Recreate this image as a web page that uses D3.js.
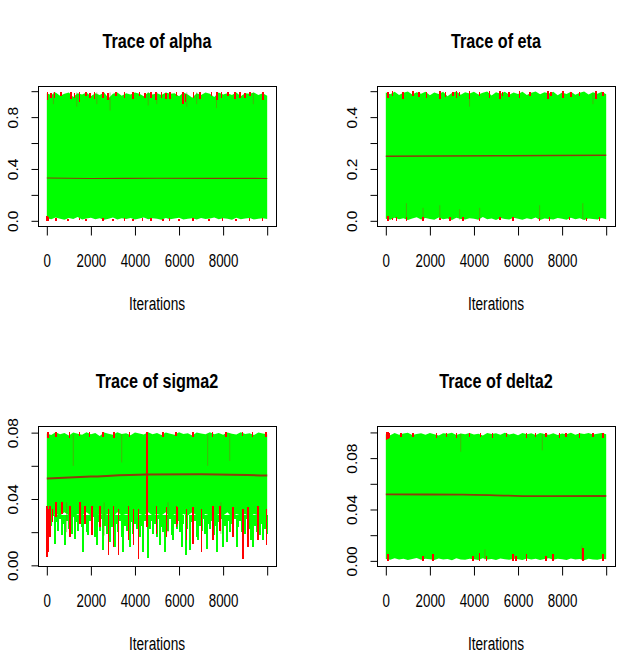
<!DOCTYPE html>
<html>
<head>
<meta charset="utf-8">
<script src="https://cdn.jsdelivr.net/npm/d3@7"></script>
<style>
  body { margin: 0; background: #fff; }
  text { font-family: "Liberation Sans", Arial, sans-serif; fill: #000; }
</style>
</head>
<body>
<div class="viz"></div>
<script>
var width = 628, height = 656;

// iteration bins for the chain envelopes
var iterBins = [0,200,400,600,800,1000,1200,1400,1600,1800,2000,2200,2400,2600,2800,3000,3200,3400,3600,3800,
  4000,4200,4400,4600,4800,5000,5200,5400,5600,5800,6000,6200,6400,6600,6800,7000,7200,7400,7600,7800,
  8000,8200,8400,8600,8800,9000,9200,9400,9600,9800,10000];
var xTicks = [0,2000,4000,6000,8000,10000];
var xLabels = ['0','2000','4000','6000','8000',''];

/* alpha */
var alphaTop = [0.985,0.97,0.99,0.965,0.98,0.99,0.955,0.985,0.975,0.99,
  0.96,0.985,0.97,0.99,0.945,0.98,0.99,0.965,0.985,0.975,
  0.99,0.98,0.96,0.99,0.975,0.985,0.97,0.99,0.98,0.985,
  0.96,0.99,0.975,0.95,0.985,0.97,0.99,0.98,0.955,0.99,
  0.975,0.985,0.97,0.99,0.96,0.985,0.98,0.99,0.97,0.985,0.965];
var alphaBot = [0.02,0.012,0.025,0.015,0.008,0.022,0.014,0.03,0.01,0.018,
  0.024,0.012,0.02,0.009,0.016,0.026,0.011,0.019,0.014,0.022,
  0.01,0.017,0.025,0.012,0.02,0.015,0.008,0.021,0.013,0.018,
  0.024,0.011,0.016,0.02,0.01,0.022,0.014,0.018,0.026,0.012,
  0.019,0.015,0.009,0.023,0.013,0.017,0.021,0.011,0.016,0.02,0.014];
var alphaRed = [[30,0.93,0.99],[200,0.95,0.985],[345,0.95,0.995],[650,0.96,0.99],[1100,0.94,0.995],[1250,0.95,0.985],
  [1480,0.92,0.99],[1780,0.96,0.995],[1950,0.95,0.985],[2160,0.94,0.99],[2540,0.95,0.995],[2765,0.93,0.985],
  [3140,0.96,0.99],[3520,0.95,0.995],[3900,0.94,0.99],[4200,0.96,0.995],[4450,0.95,0.985],[4730,0.95,0.99],
  [4960,0.93,0.995],[5210,0.95,0.99],[5400,0.94,0.985],[5590,0.94,0.995],[5890,0.96,0.99],[6190,0.9,0.995],
  [6300,0.92,0.98],[6650,0.95,0.99],[6950,0.94,0.995],[7480,0.96,0.99],[7710,0.93,0.995],[7930,0.95,0.99],
  [8230,0.96,0.995],[8540,0.94,0.99],[8760,0.95,0.995],[9000,0.95,0.985],[9220,0.96,0.99],[9820,0.93,0.995],
  [0,0.0,0.04],[60,0.0,0.03],[420,0.002,0.02],[950,0.0,0.015],[1480,0.003,0.02],[1780,0.0,0.012],
  [2540,0.002,0.018],[2990,0.0,0.015],[3520,0.001,0.02],[3900,0.0,0.012],[4350,0.002,0.018],
  [4730,0.0,0.02],[5260,0.001,0.014],[5560,0.0,0.02],[6010,0.002,0.016],[6620,0.0,0.018],
  [7370,0.001,0.014],[7980,0.0,0.02],[8580,0.002,0.015],[9190,0.0,0.018],[9790,0.001,0.02]];
var alphaDark = [[300,0.9,0.99],[1360,0.88,0.99],[2270,0.9,0.99],[2870,0.85,0.99],[4600,0.89,0.99],
  [4990,0.9,0.99],[6350,0.88,0.99],[6800,0.9,0.99],[7700,0.87,0.99],[9370,0.9,0.99]];
var alphaGreenSpikes = [];
var alphaMean = [[1,0.33],[2000,0.327],[5000,0.328],[10000,0.327]];

/* eta */
var etaTop = [0.495,0.488,0.498,0.485,0.494,0.499,0.487,0.496,0.49,0.498,
  0.484,0.495,0.489,0.498,0.48,0.493,0.499,0.486,0.496,0.491,
  0.498,0.487,0.494,0.499,0.483,0.496,0.49,0.498,0.486,0.495,
  0.489,0.498,0.485,0.494,0.499,0.488,0.496,0.491,0.498,0.484,
  0.495,0.489,0.498,0.486,0.494,0.499,0.487,0.496,0.49,0.498,0.488];
var etaBot = [0.008,0.004,0.012,0.006,0.01,0.003,0.009,0.014,0.005,0.011,
  0.007,0.004,0.013,0.006,0.009,0.003,0.012,0.007,0.005,0.01,
  0.008,0.004,0.015,0.006,0.009,0.003,0.011,0.007,0.005,0.012,
  0.008,0.004,0.01,0.006,0.013,0.003,0.009,0.007,0.005,0.011,
  0.008,0.004,0.012,0.006,0.01,0.003,0.009,0.007,0.005,0.011,0.006];
var etaRed = [[105,0.475,0.498],[300,0.48,0.499],[785,0.47,0.498],[1240,0.48,0.499],[1500,0.478,0.497],[1840,0.475,0.497],
  [2450,0.47,0.499],[2700,0.478,0.497],[3050,0.48,0.498],[3200,0.475,0.499],[3350,0.48,0.498],[3800,0.47,0.499],
  [4260,0.48,0.498],[4710,0.475,0.499],[5170,0.47,0.499],[5300,0.48,0.498],[5600,0.478,0.497],[6070,0.475,0.499],
  [6530,0.48,0.498],[7350,0.47,0.499],[7500,0.48,0.498],[8040,0.475,0.499],[8400,0.478,0.497],[8790,0.48,0.498],
  [9550,0.47,0.499],[9850,0.48,0.498],
  [105,0.0,0.018],[300,0.002,0.012],[480,0.0,0.015],[935,0.001,0.014],[1690,0.0,0.016],
  [2450,0.002,0.012],[2900,0.0,0.015],[3500,0.001,0.013],[4260,0.0,0.012],[5170,0.002,0.014],
  [5770,0.0,0.016],[6980,0.001,0.012],[7430,0.0,0.014],[8340,0.002,0.015],[9100,0.0,0.012],
  [9700,0.001,0.016]];
var etaDark = [[935,0.005,0.068],[1690,0.005,0.05],[2450,0.005,0.06],[3350,0.005,0.045],[4260,0.005,0.05],
  [6980,0.005,0.06],[8940,0.005,0.068],[3800,0.44,0.49],[9400,0.45,0.49]];
var etaGreenSpikes = [];
var etaMean = [[1,0.249],[5000,0.251],[10000,0.253]];

/* sigma2 */
var sigmaTop = [0.0795,0.0785,0.0802,0.079,0.0798,0.0782,0.0801,0.0793,0.0787,0.0803,
  0.0791,0.0798,0.078,0.0801,0.0794,0.0788,0.0802,0.0792,0.0797,0.0784,
  0.0801,0.0795,0.0789,0.0803,0.0791,0.0798,0.0786,0.0801,0.0793,0.0788,
  0.0802,0.0792,0.0797,0.0783,0.0801,0.0795,0.079,0.0803,0.0791,0.0798,
  0.0787,0.0801,0.0794,0.0789,0.0802,0.0792,0.0797,0.0785,0.0801,0.0795,0.079];
var sigmaBot = [0.03,0.029,0.031,0.03,0.032,0.03,0.029,0.031,0.03,0.032,
  0.03,0.029,0.031,0.03,0.031,0.029,0.032,0.03,0.031,0.03,
  0.029,0.031,0.03,0.032,0.03,0.031,0.03,0.032,0.029,0.031,
  0.029,0.031,0.03,0.032,0.03,0.029,0.031,0.03,0.029,0.031,
  0.03,0.032,0.029,0.031,0.03,0.031,0.029,0.031,0.03,0.029,0.03];
var sigmaRed = [[20,0.005,0.036],[80,0.008,0.034],[150,0.017,0.036],[260,0.026,0.034],[406,0.029,0.038],[678,0.031,0.038],
  [1056,0.017,0.036],[1509,0.025,0.038],[1530,0.026,0.036],[1736,0.025,0.036],[2038,0.018,0.036],[2416,0.023,0.036],
  [2794,0.006,0.034],[3020,0.011,0.036],[3247,0.006,0.034],[3700,0.015,0.036],[3927,0.012,0.034],
  [4154,0.004,0.034],[4530,0.023,0.0805],[4570,0.023,0.0805],[4985,0.019,0.036],[5438,0.017,0.035],
  [5891,0.023,0.036],[5920,0.025,0.035],[6345,0.015,0.034],[6647,0.013,0.035],[7025,0.008,0.034],
  [7553,0.015,0.036],[7856,0.021,0.036],[8460,0.017,0.035],[8913,0.004,0.034],[9140,0.011,0.035],
  [9593,0.015,0.036],[9971,0.012,0.034],
  [45,0.077,0.0805],[420,0.0775,0.0805],[1025,0.077,0.0803],[1480,0.0778,0.0805],[1930,0.0772,0.0804],
  [2540,0.0776,0.0805],[3060,0.077,0.0803],[3750,0.0775,0.0805],[5260,0.0772,0.0804],[5860,0.0777,0.0805],
  [6620,0.0771,0.0803],[7520,0.0776,0.0805],[8130,0.0773,0.0804],[8880,0.0777,0.0805],[9340,0.0772,0.0803],
  [9940,0.0775,0.0805]];
var sigmaDark = [[1200,0.06,0.079],[3400,0.062,0.079],[7300,0.06,0.079],[8300,0.063,0.079],
  [900,0.02,0.038],[2600,0.018,0.038],[5500,0.02,0.038],[7900,0.019,0.038]];
var sigmaGreenSpikes = [[30,0.02],[120,0.027],[210,0.024],[300,0.03],[376,0.013],[450,0.026],[530,0.021],[600,0.028],
  [680,0.018],[760,0.025],[830,0.012],[910,0.027],[1000,0.022],[1080,0.029],[1160,0.019],[1283,0.016],[1350,0.026],
  [1430,0.021],[1510,0.028],[1580,0.023],[1661,0.008],[1740,0.025],[1810,0.02],[1887,0.018],[1960,0.027],[2040,0.022],
  [2120,0.029],[2190,0.017],[2265,0.012],[2340,0.026],[2420,0.021],[2490,0.028],[2567,0.009],[2640,0.024],[2720,0.019],
  [2790,0.027],[2869,0.014],[2950,0.023],[3020,0.028],[3096,0.011],[3170,0.025],[3250,0.02],[3320,0.027],[3400,0.017],
  [3474,0.008],[3550,0.024],[3630,0.021],[3700,0.028],[3776,0.011],[3850,0.026],[3930,0.019],[4010,0.025],[4090,0.022],
  [4170,0.028],[4250,0.017],[4320,0.024],[4380,0.008],[4460,0.027],[4607,0.0047],[4680,0.022],[4760,0.027],[4840,0.019],
  [4920,0.025],[5000,0.017],[5080,0.028],[5136,0.012],[5210,0.023],[5290,0.02],[5362,0.008],[5440,0.026],[5520,0.021],
  [5600,0.028],[5670,0.018],[5740,0.015],[5820,0.025],[5900,0.022],[5970,0.027],[6050,0.02],[6118,0.011],[6200,0.025],
  [6300,0.006],[6380,0.022],[6496,0.009],[6570,0.026],[6650,0.02],[6730,0.027],[6800,0.017],[6873,0.015],[6950,0.024],
  [7030,0.021],[7110,0.028],[7180,0.019],[7251,0.01],[7330,0.025],[7410,0.022],[7490,0.027],[7570,0.018],[7640,0.024],
  [7704,0.008],[7780,0.026],[7850,0.021],[7920,0.028],[7990,0.011],[8070,0.024],[8158,0.014],[8230,0.027],[8310,0.02],
  [8390,0.025],[8470,0.018],[8540,0.028],[8611,0.011],[8690,0.023],[8770,0.027],[8840,0.02],[8920,0.025],[9000,0.019],
  [9080,0.028],[9160,0.022],[9250,0.015],[9310,0.026],[9367,0.011],[9440,0.024],[9520,0.02],[9600,0.027],[9680,0.018],
  [9750,0.025],[9820,0.015],[9900,0.022],[9970,0.019]];
var sigmaMean = [[1,0.0524],[2000,0.0535],[4500,0.0547],[7000,0.0549],[10000,0.0541]];

/* delta2 */
var deltaTop = [0.0985,0.0978,0.0995,0.0982,0.0991,0.0997,0.0979,0.0988,0.0994,0.0981,
  0.0996,0.0986,0.0977,0.0993,0.0989,0.0998,0.098,0.0992,0.0985,0.0996,
  0.0983,0.099,0.0976,0.0995,0.0987,0.0993,0.0981,0.0997,0.0984,0.0991,
  0.0978,0.0995,0.0986,0.0993,0.098,0.0996,0.0988,0.0982,0.0994,0.0979,
  0.0992,0.0986,0.0997,0.0981,0.0993,0.0988,0.0995,0.0983,0.099,0.0996,0.0986];
var deltaBot = [0.0015,0.0008,0.002,0.001,0.0017,0.0006,0.0014,0.0022,0.0009,0.0016,
  0.0012,0.0007,0.0019,0.001,0.0015,0.0005,0.0021,0.0011,0.0008,0.0017,
  0.0013,0.0007,0.002,0.001,0.0015,0.0006,0.0018,0.0012,0.0008,0.0016,
  0.0013,0.0007,0.0019,0.001,0.0016,0.0006,0.0014,0.0021,0.0009,0.0016,
  0.0012,0.0007,0.0018,0.001,0.0015,0.0005,0.0017,0.0011,0.0008,0.0016,0.0012];
var deltaRed = [[30,0.094,0.1],[90,0.095,0.1],[150,0.096,0.0995],[700,0.0965,0.0995],[1240,0.0965,0.0995],[2300,0.096,0.0998],
  [2760,0.0965,0.0995],[3200,0.096,0.0998],[3800,0.0965,0.0995],[4300,0.0965,0.0995],[4850,0.096,0.0998],[5470,0.0965,0.0995],
  [6380,0.096,0.0998],[6800,0.0965,0.0995],[7280,0.0965,0.0995],[7890,0.096,0.0998],[8190,0.0965,0.0995],[8790,0.096,0.0998],
  [9400,0.0965,0.0995],[9850,0.096,0.0998],
  [105,0.0,0.005],[1690,0.0002,0.004],[2140,0.0,0.005],[3950,0.0002,0.004],[4260,0.0,0.006],
  [4560,0.0002,0.004],[5770,0.0,0.005],[5920,0.0002,0.004],[6380,0.0,0.005],[7280,0.0002,0.004],
  [7580,0.0,0.005],[8940,0.0,0.01],[9850,0.0002,0.005]];
var deltaDark = [[3400,0.085,0.099],[7100,0.086,0.099],[8900,0.001,0.012],[4500,0.001,0.009]];
var deltaGreenSpikes = [];
var deltaMean = [[1,0.0517],[3500,0.0516],[5500,0.0508],[7000,0.0504],[10000,0.0505]];

var panels = [
  {title:'Trace of alpha', col:0, row:0, yDomain:[-0.04,1.04], yTicks:[0,0.2,0.4,0.6,0.8,1.0],
   yLabels:['0.0','','0.4','','0.8',''], top:alphaTop, bot:alphaBot, red:alphaRed, dark:alphaDark,
   spikes:alphaGreenSpikes, spikeTop:0.03, mean:alphaMean, meanWidth:1.1},
  {title:'Trace of eta', col:1, row:0, yDomain:[-0.02,0.52], yTicks:[0,0.1,0.2,0.3,0.4,0.5],
   yLabels:['0.0','','0.2','','0.4',''], top:etaTop, bot:etaBot, red:etaRed, dark:etaDark,
   spikes:etaGreenSpikes, spikeTop:0.02, mean:etaMean, meanWidth:1.6},
  {title:'Trace of sigma2', col:0, row:1, yDomain:[-0.0004,0.084], yTicks:[0,0.02,0.04,0.06,0.08],
   yLabels:['0.00','','0.04','','0.08'], top:sigmaTop, bot:sigmaBot, red:sigmaRed, dark:sigmaDark,
   spikes:sigmaGreenSpikes, spikeTop:0.0305, mean:sigmaMean, meanWidth:2},
  {title:'Trace of delta2', col:1, row:1, yDomain:[-0.004,0.105], yTicks:[0,0.02,0.04,0.06,0.08,0.10],
   yLabels:['0.00','','0.04','','0.08',''], top:deltaTop, bot:deltaBot, red:deltaRed, dark:deltaDark,
   spikes:deltaGreenSpikes, spikeTop:0.005, mean:deltaMean, meanWidth:1.8}
];

var boxLeft = [38, 377], boxTop = [86, 426], boxW = 238, boxH = 140;
var titleBase = [48, 388];

var svg = d3.select('.viz').append('svg')
  .attr('width', width)
  .attr('height', height);

panels.forEach(function(p){
  var x0 = boxLeft[p.col], y0 = boxTop[p.row];
  var g = svg.append('g');

  var x = d3.scaleLinear().domain([-400, 10400]).range([x0, x0 + boxW]);
  var y = d3.scaleLinear().domain(p.yDomain).range([y0 + boxH, y0]);

  var env = iterBins.map(function(it, i){ return {it: it, hi: p.top[i], lo: p.bot[i]}; });

  var area = d3.area()
    .x(function(d){ return x(d.it); })
    .y0(function(d){ return y(d.lo); })
    .y1(function(d){ return y(d.hi); });

  g.append('path')
    .datum(env)
    .attr('d', area)
    .attr('fill', '#00ff00');

  // sparse green excursions below the body
  g.selectAll('.gspike')
    .data(p.spikes)
    .enter()
    .append('line')
    .attr('class', 'gspike')
    .attr('x1', function(d){ return x(d[0]); })
    .attr('x2', function(d){ return x(d[0]); })
    .attr('y1', function(d){ return y(p.spikeTop); })
    .attr('y2', function(d){ return y(d[1]); })
    .attr('stroke', '#00ff00')
    .attr('stroke-width', 2)
    .attr('shape-rendering', 'crispEdges');

  g.selectAll('.dark')
    .data(p.dark)
    .enter()
    .append('line')
    .attr('class', 'dark')
    .attr('x1', function(d){ return x(d[0]); })
    .attr('x2', function(d){ return x(d[0]); })
    .attr('y1', function(d){ return y(d[1]); })
    .attr('y2', function(d){ return y(d[2]); })
    .attr('stroke', '#7a7a10')
    .attr('stroke-opacity', 0.7)
    .attr('stroke-width', 0.8);

  g.selectAll('.red')
    .data(p.red)
    .enter()
    .append('line')
    .attr('class', 'red')
    .attr('x1', function(d){ return x(d[0]); })
    .attr('x2', function(d){ return x(d[0]); })
    .attr('y1', function(d){ return y(d[1]); })
    .attr('y2', function(d){ return y(d[2]); })
    .attr('stroke', '#ff0000')
    .attr('stroke-width', 1.6)
    .attr('shape-rendering', 'crispEdges');

  var line = d3.line()
    .x(function(d){ return x(d[0]); })
    .y(function(d){ return y(d[1]); })
    .curve(d3.curveMonotoneX);

  g.append('path')
    .datum(p.mean)
    .attr('d', line)
    .attr('fill', 'none')
    .attr('stroke', '#8c3c0c')
    .attr('stroke-width', p.meanWidth);

  // box
  g.append('rect')
    .attr('x', x0 + 0.5).attr('y', y0 + 0.5)
    .attr('width', boxW).attr('height', boxH)
    .attr('fill', 'none')
    .attr('stroke', '#000')
    .attr('stroke-width', 1);

  // x axis
  var xAxis = d3.axisBottom(x)
    .tickValues(xTicks)
    .tickSize(9)
    .tickSizeOuter(0)
    .tickFormat(function(d, i){ return xLabels[i]; });

  var xg = g.append('g')
    .attr('transform', 'translate(0,' + (y0 + boxH + 0.5) + ')')
    .call(xAxis);
  xg.select('.domain').remove();
  xg.selectAll('line').attr('stroke', '#000');
  xg.selectAll('text')
    .attr('y', 40.5)
    .attr('dy', 0)
    .attr('transform', 'scale(0.72,1)')
    .style('font-size', '18.5px')
    .attr('fill', '#000');

  // y axis
  var yAxis = d3.axisLeft(y)
    .tickValues(p.yTicks)
    .tickSize(7)
    .tickSizeOuter(0)
    .tickFormat(function(d, i){ return p.yLabels[i]; });

  var yg = g.append('g')
    .attr('transform', 'translate(' + (x0 + 0.5) + ',0)')
    .call(yAxis);
  yg.select('.domain').remove();
  yg.selectAll('line').attr('stroke', '#000');
  yg.selectAll('text')
    .attr('x', 0).attr('y', 0).attr('dy', 0)
    .attr('text-anchor', 'middle')
    .attr('transform', 'translate(-21,0) rotate(-90)')
    .style('font-size', '15.5px')
    .attr('fill', '#000');

  // title
  g.append('text')
    .attr('transform', 'translate(' + (x0 + boxW / 2) + ',' + titleBase[p.row] + ') scale(0.81,1)')
    .attr('text-anchor', 'middle')
    .style('font-size', '20px')
    .style('font-weight', 'bold')
    .text(p.title);

  g.append('text')
    .attr('transform', 'translate(' + (x0 + boxW / 2) + ',' + (y0 + boxH + 83.5) + ') scale(0.72,1)')
    .attr('text-anchor', 'middle')
    .style('font-size', '19px')
    .text('Iterations');
});
</script>
</body>
</html>
